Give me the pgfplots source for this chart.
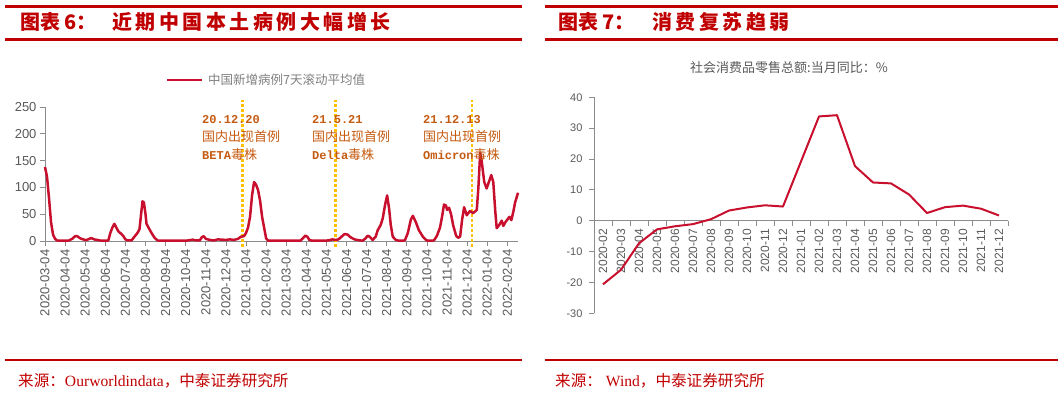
\documentclass[border=0pt]{standalone}
\usepackage{pgfplots}
\pgfplotsset{compat=1.18}
\usepackage{fontspec}
\setmainfont{Liberation Sans}
\newfontfamily\cjk{Noto Sans CJK SC}
\newfontfamily\serifl{Liberation Serif}
\newfontfamily\monol{Liberation Mono}
\definecolor{titlered}{HTML}{C00000}
\definecolor{linered}{HTML}{C8102E}
\definecolor{annot}{HTML}{C55A11}
\definecolor{vline}{HTML}{FFC000}
\definecolor{axgray}{HTML}{8C8C8C}
\definecolor{txtgray}{HTML}{595959}
\definecolor{leggray}{HTML}{7F7F7F}
\def\ls{\hspace{3.5pt}}
\newcommand{\fs}[1]{\fontsize{#1}{#1}\selectfont}
\begin{document}
\begin{tikzpicture}
\useasboundingbox (0,0) rectangle (1063pt,402pt);
% header and footer rules
\draw[titlered, line width=3pt] (5pt,395pt) -- (522pt,395pt);
\draw[titlered, line width=3pt] (5pt,362pt) -- (522pt,362pt);
\draw[titlered, line width=3pt] (545pt,395pt) -- (1058pt,395pt);
\draw[titlered, line width=3pt] (545pt,362pt) -- (1058pt,362pt);
\draw[titlered, line width=2.5pt] (5pt,42pt) -- (522pt,42pt);
\draw[titlered, line width=2.5pt] (545pt,42pt) -- (1058pt,42pt);
% titles
\node[anchor=west, text=titlered, inner sep=0, font=\cjk\bfseries\fs{20pt}] at (20pt,380pt) {图表\hspace{4pt}6：};
\node[anchor=west, text=titlered, inner sep=0, font=\cjk\bfseries\fs{20pt}] at (112pt,380pt) {近\ls 期\ls 中\ls 国\ls 本\ls 土\ls 病\ls 例\ls 大\ls 幅\ls 增\ls 长};
\node[anchor=west, text=titlered, inner sep=0, font=\cjk\bfseries\fs{20pt}] at (558pt,380pt) {图表\hspace{4pt}7：};
\node[anchor=west, text=titlered, inner sep=0, font=\cjk\bfseries\fs{20pt}] at (652pt,380pt) {消\ls 费\ls 复\ls 苏\ls 趋\ls 弱};
% footers
\node[anchor=west, text=titlered, inner sep=0, font=\fs{15.6pt}] at (18pt,21pt) {{\cjk 来源：}{\serifl Ourworldindata}{\cjk ，中泰证券研究所}};
\node[anchor=west, text=titlered, inner sep=0, font=\fs{15.6pt}] at (555pt,21pt) {{\cjk 来源：}{\serifl\ Wind}{\cjk ，中泰证券研究所}};
% left legend
\draw[linered, line width=2.5pt] (167pt,322pt) -- (202pt,322pt);
\node[anchor=west, text=leggray, inner sep=0, font=\cjk\fs{12.5pt}] at (208pt,322pt) {中国新增病例7天滚动平均值};
% right chart title
\node[anchor=center, text=txtgray, inner sep=0, font=\cjk\fs{13pt}] at (789pt,334pt) {社会消费品零售总额:当月同比：\%};

\begin{axis}[
  at={(45pt,161pt)}, anchor=south west, scale only axis,
  width=473pt, height=134pt,
  xmin=0, xmax=23.53, ymin=0, ymax=250,
  axis lines=left, axis line style={axgray, -, line width=0.8pt},
  xtick={0,...,23},
  xticklabels={2020-03-04,2020-04-04,2020-05-04,2020-06-04,2020-07-04,2020-08-04,2020-09-04,2020-10-04,2020-11-04,2020-12-04,2021-01-04,2021-02-04,2021-03-04,2021-04-04,2021-05-04,2021-06-04,2021-07-04,2021-08-04,2021-09-04,2021-10-04,2021-11-04,2021-12-04,2022-01-04,2022-02-04},
  ytick={0,50,...,250},
  tick align=outside, major tick length=5pt,
  tick style={axgray, line width=0.8pt},
  xticklabel style={rotate=90, anchor=east, font=\fs{13pt}, text=txtgray},
  yticklabel style={font=\fs{13pt}, text=txtgray},
  /pgf/number format/assume math mode=true,
  clip=false,
]
\addplot[vline, line width=2.5pt, dash pattern=on 2.5pt off 2.5pt] coordinates {(9.83,-11) (9.83,263)};
\addplot[vline, line width=2.5pt, dash pattern=on 2.5pt off 2.5pt] coordinates {(14.46,-11) (14.46,263)};
\addplot[vline, line width=2.5pt, dash pattern=on 2.5pt off 2.5pt] coordinates {(21.23,-11) (21.23,263)};
\addplot[linered, line width=2.5pt, line join=round] coordinates {
(0,138) (0.1,120) (0.2,80) (0.3,35) (0.4,12) (0.5,4) (0.6,1) (0.8,0.5) (1.0,0.5) (1.2,1) (1.35,4) (1.5,9) (1.6,9) (1.75,5) (1.9,3) (2.05,1.5) (2.2,4) (2.3,5.5) (2.45,3) (2.6,2) (2.8,0.5) (3.0,0.5) (3.15,1) (3.25,15) (3.35,25) (3.45,32) (3.55,25) (3.65,18) (3.8,13) (3.9,9) (4.0,3) (4.1,1) (4.3,1) (4.45,8) (4.6,15) (4.7,22) (4.78,50) (4.85,74) (4.92,72) (5.0,50) (5.05,32) (5.15,25) (5.3,15) (5.45,6) (5.6,1) (5.8,0.5) (6.5,0.5) (7.0,0.5) (7.2,1.5) (7.35,2.5) (7.5,1) (7.7,1) (7.8,7) (7.9,9) (8.0,4) (8.2,2) (8.4,1) (8.6,3) (8.8,2.5) (9.0,2) (9.2,3) (9.4,2) (9.6,4) (9.75,8) (9.9,9) (10.0,15) (10.1,25) (10.2,45) (10.3,85) (10.4,110) (10.5,105) (10.6,95) (10.7,75) (10.8,45) (10.9,25) (11.0,5) (11.1,0.5) (12.0,0.5) (12.7,0.5) (12.85,6) (12.95,10) (13.05,8) (13.15,2) (13.3,0.5) (13.6,0.5) (14.1,1) (14.3,3) (14.45,2) (14.6,3) (14.75,8) (14.9,13) (15.05,12) (15.2,7) (15.4,3) (15.6,1.5) (15.8,0.5) (15.95,5) (16.05,10) (16.15,8) (16.3,2) (16.45,8) (16.55,20) (16.7,30) (16.8,42) (16.92,68) (17.02,85) (17.12,60) (17.2,30) (17.3,8) (17.45,2) (17.6,0.5) (17.9,1) (18.05,15) (18.2,40) (18.3,47) (18.45,35) (18.6,20) (18.8,8) (18.95,2) (19.05,0.5) (19.35,1) (19.5,10) (19.65,25) (19.75,45) (19.85,68) (19.95,66) (20.0,58) (20.1,62) (20.2,50) (20.3,30) (20.45,10) (20.55,6) (20.65,8) (20.75,40) (20.85,63) (20.98,48) (21.14,56) (21.3,52) (21.48,58) (21.56,100) (21.65,165) (21.72,150) (21.85,110) (21.97,98) (22.1,112) (22.2,123) (22.3,110) (22.4,55) (22.47,24) (22.6,30) (22.72,38) (22.8,28) (22.9,35) (23.0,40) (23.1,45) (23.2,39) (23.3,55) (23.38,71) (23.53,90)};
\end{axis}
% annotations
\node[anchor=west, text=annot, inner sep=0, font=\monol\bfseries\fs{12pt}] at (202pt,282pt) {20.12.20};
\node[anchor=west, text=annot, inner sep=0, font=\cjk\fs{13pt}] at (202pt,265pt) {国内出现首例};
\node[anchor=west, text=annot, inner sep=0, font=\fs{13pt}] at (202pt,247pt) {{\monol\bfseries\fs{12pt}BETA}{\cjk 毒株}};
\node[anchor=west, text=annot, inner sep=0, font=\monol\bfseries\fs{12pt}] at (312pt,282pt) {21.5.21};
\node[anchor=west, text=annot, inner sep=0, font=\cjk\fs{13pt}] at (312pt,265pt) {国内出现首例};
\node[anchor=west, text=annot, inner sep=0, font=\fs{13pt}] at (312pt,247pt) {{\monol\bfseries\fs{12pt}Delta}{\cjk 毒株}};
\node[anchor=west, text=annot, inner sep=0, font=\monol\bfseries\fs{12pt}] at (423pt,282pt) {21.12.13};
\node[anchor=west, text=annot, inner sep=0, font=\cjk\fs{13pt}] at (423pt,265pt) {国内出现首例};
\node[anchor=west, text=annot, inner sep=0, font=\fs{13pt}] at (423pt,247pt) {{\monol\bfseries\fs{12pt}Omicron}{\cjk 毒株}};

\begin{axis}[
  at={(594pt,88.7pt)}, anchor=south west, scale only axis,
  width=414pt, height=216pt,
  xmin=-0.5, xmax=22.5, ymin=-30, ymax=40,
  axis x line=middle, axis y line=left,
  axis line style={axgray, -, line width=0.8pt},
  xtick={0,...,22},
  xticklabels={2020-02,2020-03,2020-04,2020-05,2020-06,2020-07,2020-08,2020-09,2020-10,2020-11,2020-12,2021-01,2021-02,2021-03,2021-04,2021-05,2021-06,2021-07,2021-08,2021-09,2021-10,2021-11,2021-12},
  minor xtick={-0.5,0.5,...,22.5},
  ytick={-30,-20,...,40},
  tick align=outside, major tick length=5pt, minor tick length=5pt,
  major x tick style={draw=none},
  minor x tick style={draw=axgray, line width=0.8pt},
  tick style={axgray, line width=0.8pt},
  xticklabel style={rotate=90, anchor=east, font=\fs{12pt}, text=txtgray},
  yticklabel style={font=\fs{11pt}, text=txtgray, xshift=-3pt},
  /pgf/number format/assume math mode=true,
  clip=false,
]
\addplot[linered, line width=2pt, line join=round] coordinates {
(0,-20.6) (1,-15.9) (2,-7.3) (3,-2.8) (4,-1.8) (5,-1.1) (6,0.5) (7,3.3) (8,4.3) (9,5.0) (10,4.6) (11,19.2) (12,33.8) (13,34.2) (14,17.7) (15,12.4) (16,12.1) (17,8.5) (18,2.5) (19,4.4) (20,4.9) (21,3.9) (22,1.7)};
\end{axis}
\end{tikzpicture}
\end{document}
